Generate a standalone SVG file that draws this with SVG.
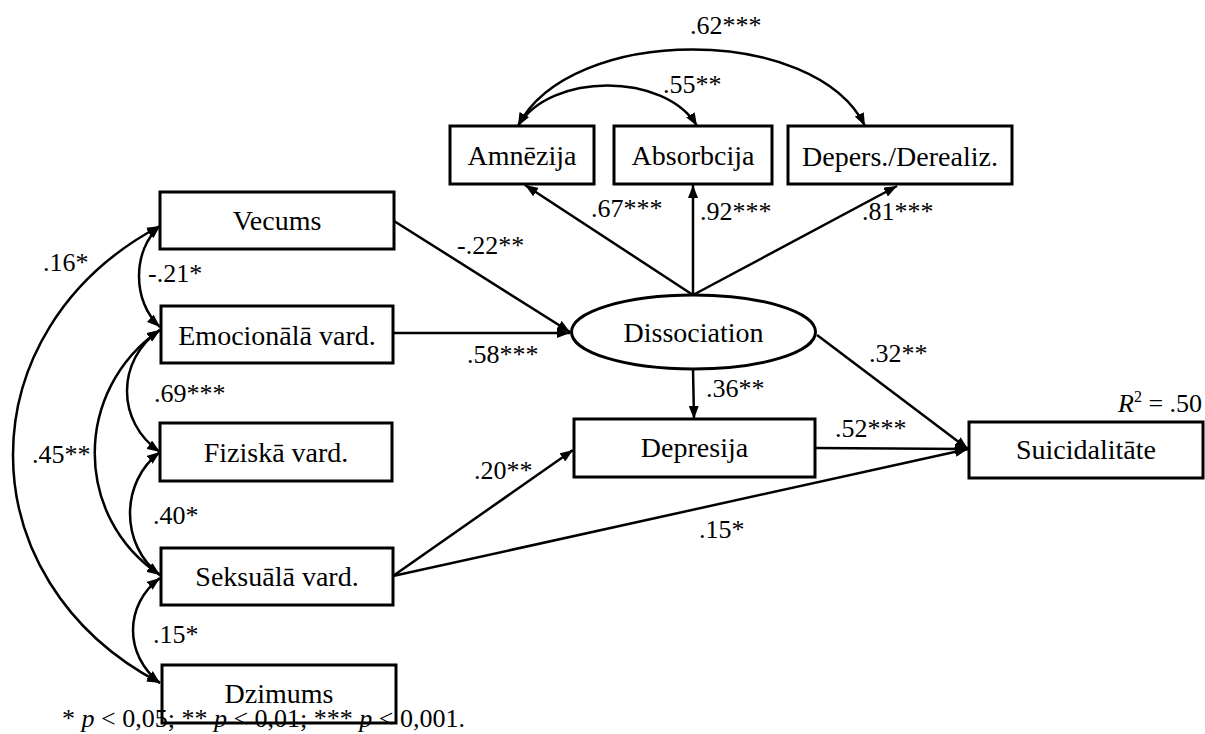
<svg xmlns="http://www.w3.org/2000/svg" width="1205" height="734" viewBox="0 0 1205 734" font-family="'Liberation Serif', 'DejaVu Serif', serif">
<style>
  .box { fill: #fff; stroke: #000; stroke-width: 3; }
  .node { font-family: 'Liberation Serif', 'DejaVu Serif', serif; font-size: 28px; fill: #000; text-anchor: middle; }
  .lbl { font-family: 'Liberation Serif', 'DejaVu Serif', serif; font-size: 26px; fill: #000; }
  .ln { fill: none; stroke: #000; stroke-width: 2.5; marker-end: url(#ah); }
  .cv { fill: none; stroke: #000; stroke-width: 2.5; marker-start: url(#ah); marker-end: url(#ah); }
</style>
<defs>
  <marker id="ah" markerUnits="userSpaceOnUse" markerWidth="13" markerHeight="10" refX="13" refY="5" orient="auto-start-reverse">
    <path d="M0,0 L13,5 L0,10 z" fill="#000"/>
  </marker>
</defs>
<rect width="1205" height="734" fill="#fff"/>

<g id="connectors">
  <path class="ln" d="M394,221 L570,332"/>
  <path class="ln" d="M393,333 L570,333"/>
  <path class="ln" d="M693,295 L525,185"/>
  <path class="ln" d="M693,295 L693,185"/>
  <path class="ln" d="M693,295 L897,186"/>
  <path class="ln" d="M693,369 L694,419"/>
  <path class="ln" d="M817,335 L968,449"/>
  <path class="ln" d="M815,448 L968,449"/>
  <path class="ln" d="M393,576 L573,450"/>
  <path class="ln" d="M393,576 L968,449"/>
  <path class="cv" d="M518,126 C570,24 815,24 865,126"/>
  <path class="cv" d="M518,126 C550,72 665,72 697,126"/>
  <path class="cv" d="M160,226 C132,250 132,302 160,327"/>
  <path class="cv" d="M160,330 C116,360 116,422 160,452"/>
  <path class="cv" d="M160,330 C73,390 73,517 160,575"/>
  <path class="cv" d="M160,452 C120,482 120,545 160,575"/>
  <path class="cv" d="M160,578 C124,605 124,655 160,683"/>
  <path class="cv" d="M160,226 C-36,330 -36,580 160,683"/>
</g>

<g id="amnezija"><rect class="box" x="450" y="126" width="144" height="58"/><text class="node" x="522" y="165">Amnēzija</text></g>
<g id="absorbcija"><rect class="box" x="614" y="126" width="158" height="58"/><text class="node" x="693" y="165">Absorbcija</text></g>
<g id="depers"><rect class="box" x="788" y="126" width="224" height="58"/><text class="node" x="900" y="166">Depers./Derealiz.</text></g>
<g id="vecums"><rect class="box" x="160" y="192" width="234" height="57"/><text class="node" x="277" y="230">Vecums</text></g>
<g id="emocionala"><rect class="box" x="161" y="306" width="232" height="57"/><text class="node" x="277" y="345">Emocionālā vard.</text></g>
<g id="fiziska"><rect class="box" x="160" y="423" width="232" height="58"/><text class="node" x="276" y="462">Fiziskā vard.</text></g>
<g id="seksuala"><rect class="box" x="161" y="548" width="232" height="57"/><text class="node" x="277" y="586">Seksuālā vard.</text></g>
<g id="dzimums"><rect class="box" x="162" y="665" width="234" height="58"/><text class="node" x="279" y="703">Dzimums</text></g>
<g id="dissociation"><ellipse class="box" cx="693.5" cy="332" rx="122" ry="37"/><text class="node" x="693.5" y="342">Dissociation</text></g>
<g id="depresija"><rect class="box" x="574" y="419" width="241" height="58"/><text class="node" x="694.5" y="457">Depresija</text></g>
<g id="suicidalitate"><rect class="box" x="969" y="422" width="234" height="56"/><text class="node" x="1086" y="459">Suicidalitāte</text></g>

<g id="labels">
  <text class="lbl" x="690" y="34">.62***</text>
  <text class="lbl" x="663" y="93">.55**</text>
  <text class="lbl" x="591" y="217">.67***</text>
  <text class="lbl" x="700" y="220">.92***</text>
  <text class="lbl" x="862" y="220">.81***</text>
  <text class="lbl" x="457" y="254">-.22**</text>
  <text class="lbl" x="467" y="363">.58***</text>
  <text class="lbl" x="706" y="397">.36**</text>
  <text class="lbl" x="869" y="362">.32**</text>
  <text class="lbl" x="835" y="437">.52***</text>
  <text class="lbl" x="474" y="479">.20**</text>
  <text class="lbl" x="699" y="538">.15*</text>
  <text class="lbl" x="43" y="271">.16*</text>
  <text class="lbl" x="148" y="282">-.21*</text>
  <text class="lbl" x="154" y="402">.69***</text>
  <text class="lbl" x="32" y="463">.45**</text>
  <text class="lbl" x="153" y="524">.40*</text>
  <text class="lbl" x="153" y="643">.15*</text>
  <text class="lbl" x="1118" y="412"><tspan font-style="italic">R</tspan><tspan font-size="16" dy="-10">2</tspan><tspan dy="10"> = .50</tspan></text>
  <text class="lbl" x="62" y="727">* <tspan font-style="italic">p</tspan> &lt; 0,05; ** <tspan font-style="italic">p</tspan> &lt; 0,01; *** <tspan font-style="italic">p</tspan> &lt; 0,001.</text>
</g>
</svg>
